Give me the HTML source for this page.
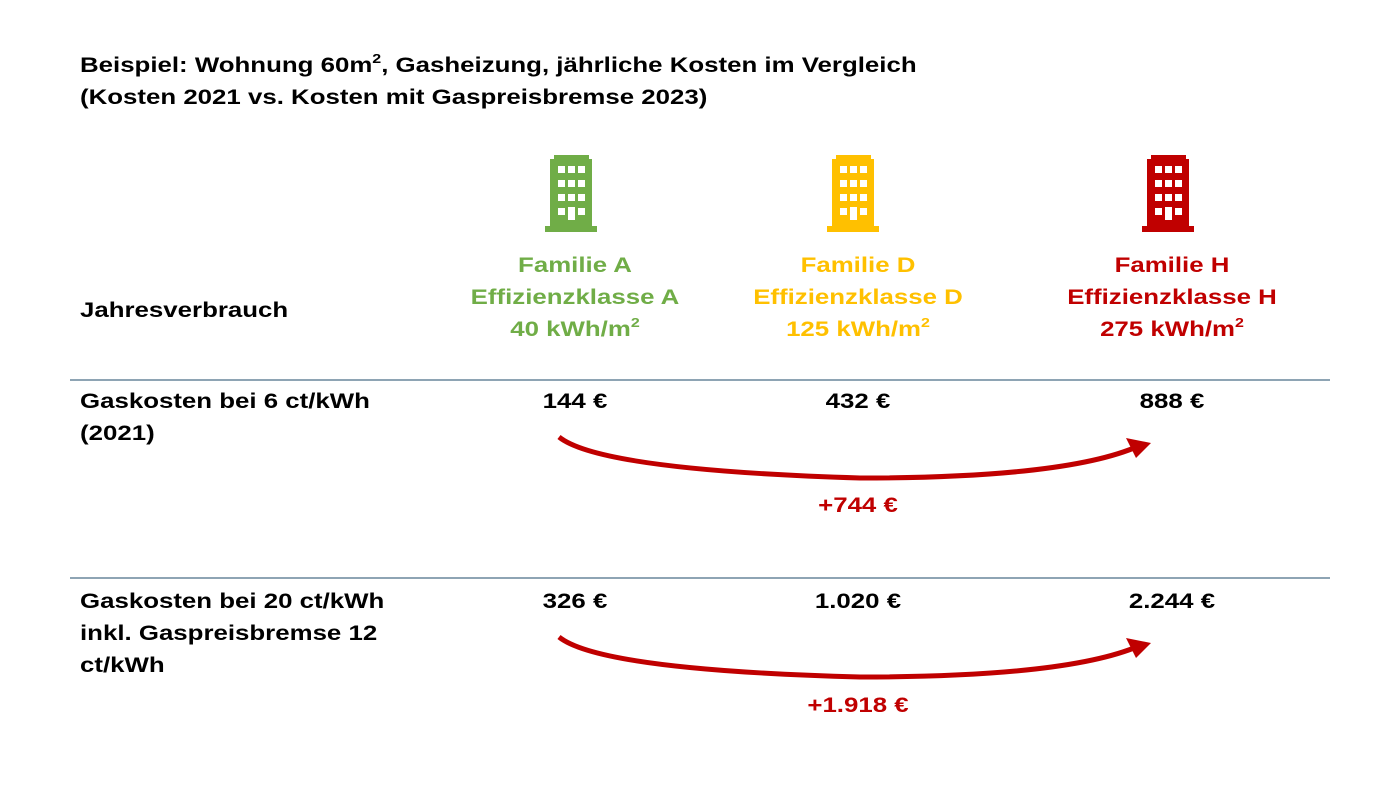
<!DOCTYPE html>
<html><head><meta charset="utf-8"><style>
body{margin:0;width:1400px;height:788px;background:#fff;font-family:"Liberation Sans",Arial,sans-serif;font-weight:bold;position:relative;overflow:hidden}
.t{position:absolute;font-size:21px;line-height:32px;color:#000;white-space:nowrap;transform:scaleX(1.23);transform-origin:left top}
.c{position:absolute;font-size:21px;line-height:32px;text-align:center;width:300px;white-space:nowrap;transform:scaleX(1.23);transform-origin:center top}
sup{font-size:13px;line-height:0;vertical-align:9px}
.hr{position:absolute;left:70px;width:1260px;height:2px;background:#8ea4b4}
</style></head><body>
<div class="t" style="left:80px;top:50px">Beispiel: Wohnung 60m<sup>2</sup>, Gasheizung, jährliche Kosten im Vergleich<br>(Kosten 2021 vs. Kosten mit Gaspreisbremse 2023)</div>

<svg width="1400" height="788" style="position:absolute;left:0;top:0">
<defs>
<g id="b">
<path d="M9 0H44V4H47V71H52V77H0V71H5V4H9Z"/>
<g fill="#fff">
<rect x="13" y="11" width="7" height="7"/><rect x="23" y="11" width="7" height="7"/><rect x="33" y="11" width="7" height="7"/>
<rect x="13" y="25" width="7" height="7"/><rect x="23" y="25" width="7" height="7"/><rect x="33" y="25" width="7" height="7"/>
<rect x="13" y="39" width="7" height="7"/><rect x="23" y="39" width="7" height="7"/><rect x="33" y="39" width="7" height="7"/>
<rect x="13" y="53" width="7" height="7"/><rect x="23" y="52" width="7" height="13"/><rect x="33" y="53" width="7" height="7"/>
</g></g>
</defs>
<use href="#b" x="545" y="155" fill="#70ad47"/>
<use href="#b" x="827" y="155" fill="#ffc000"/>
<use href="#b" x="1142" y="155" fill="#c00000"/>
<path d="M559 437 Q600 470 860 478 Q1060 478 1134 448" stroke="#c00000" stroke-width="5" fill="none"/>
<path d="M1126 438 L1151 443 L1136 458 Z" fill="#c00000"/>
<path d="M559 637 Q600 670 860 677 Q1060 677 1134 648" stroke="#c00000" stroke-width="5" fill="none"/>
<path d="M1126 638 L1151 643 L1136 658 Z" fill="#c00000"/>
</svg>

<div class="c" style="left:425px;top:250px;color:#70ad47">Familie A<br>Effizienzklasse A<br>40 kWh/m<sup>2</sup></div>
<div class="c" style="left:708px;top:250px;color:#ffc000">Familie D<br>Effizienzklasse D<br>125 kWh/m<sup>2</sup></div>
<div class="c" style="left:1022px;top:250px;color:#c00000">Familie H<br>Effizienzklasse H<br>275 kWh/m<sup>2</sup></div>

<div class="t" style="left:80px;top:295px">Jahresverbrauch</div>
<div class="hr" style="top:379px"></div>
<div class="t" style="left:80px;top:386px">Gaskosten bei 6 ct/kWh<br>(2021)</div>
<div class="c" style="left:425px;top:386px">144 €</div>
<div class="c" style="left:708px;top:386px">432 €</div>
<div class="c" style="left:1022px;top:386px">888 €</div>
<div class="c" style="left:708px;top:490px;color:#c00000">+744 €</div>

<div class="hr" style="top:577px"></div>
<div class="t" style="left:80px;top:586px">Gaskosten bei 20 ct/kWh<br>inkl. Gaspreisbremse 12<br>ct/kWh</div>
<div class="c" style="left:425px;top:586px">326 €</div>
<div class="c" style="left:708px;top:586px">1.020 €</div>
<div class="c" style="left:1022px;top:586px">2.244 €</div>
<div class="c" style="left:708px;top:690px;color:#c00000">+1.918 €</div>
</body></html>
